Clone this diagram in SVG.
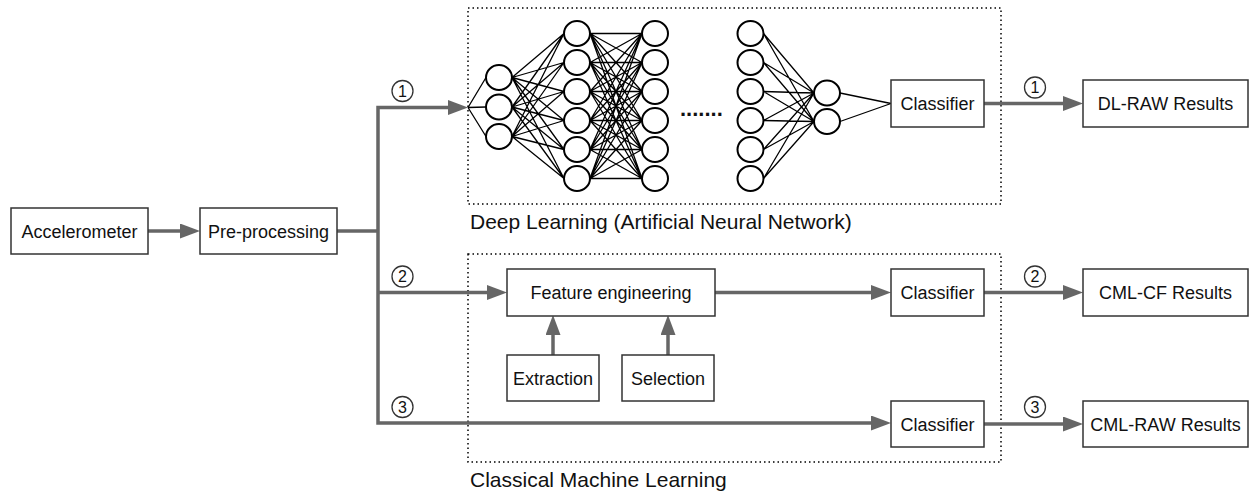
<svg xmlns="http://www.w3.org/2000/svg" width="1251" height="496" viewBox="0 0 1251 496">
<style>
.box{fill:#fff;stroke:#333;stroke-width:1.5}
.grp{fill:none;stroke:#000;stroke-width:1.5;stroke-dasharray:1.5 3}
.t{font-family:"Liberation Sans",Arial,sans-serif;font-size:18px;fill:#111;text-anchor:middle}
.gl{font-family:"Liberation Sans",Arial,sans-serif;font-size:21px;fill:#111}
.num{font-family:"Liberation Sans",Arial,sans-serif;font-size:16px;fill:#111;text-anchor:middle}
.nc{fill:none;stroke:#333;stroke-width:1.3}
.arr{fill:none;stroke:#666;stroke-width:3.5;marker-end:url(#ah)}
.nn{fill:none;stroke:#000;stroke-width:1.3}
.neuron{fill:#fff;stroke:#000;stroke-width:2}
</style>
<defs>
<marker id="ah" markerUnits="userSpaceOnUse" markerWidth="20" markerHeight="15" refX="10" refY="7.5" orient="auto-start-reverse"><path d="M0 0L20 7.5L0 15z" fill="#666"/></marker>
</defs>

<g id="groups">
<rect class="grp" x="468" y="8" width="533" height="196"/>
<text class="gl" x="470" y="229">Deep Learning (Artificial Neural Network)</text>
<rect class="grp" x="468" y="254" width="533" height="208"/>
<text class="gl" x="470" y="487">Classical Machine Learning</text>
</g>

<g id="connectors">
<path class="arr" d="M148 231H190"/>
<path d="M337 231H378" fill="none" stroke="#666" stroke-width="3.5"/>
<path class="arr" d="M458 107.5H378V423H881" style="marker-start:url(#ah)"/>
<path class="arr" d="M378 292.5H497"/>
<path class="arr" d="M715 292.5H881"/>
<path class="arr" d="M553 355V325"/>
<path class="arr" d="M668 355V325"/>
<path class="arr" d="M984 103.5H1073"/>
<path class="arr" d="M984 292.5H1073"/>
<path class="arr" d="M984 424H1073"/>
<path class="nn" d="M468 107.5L486 77.5M468 107.5L486 107M468 107.5L486 136.5"/>
<path class="nn" d="M512 77.5L564 33.5M512 77.5L564 62.5M512 77.5L564 91.5M512 77.5L564 120.5M512 77.5L564 149.5M512 77.5L564 178.5M512 107L564 33.5M512 107L564 62.5M512 107L564 91.5M512 107L564 120.5M512 107L564 149.5M512 107L564 178.5M512 136.5L564 33.5M512 136.5L564 62.5M512 136.5L564 91.5M512 136.5L564 120.5M512 136.5L564 149.5M512 136.5L564 178.5"/>
<path class="nn" d="M590 33.5L642 33.5M590 33.5L642 62.5M590 33.5L642 91.5M590 33.5L642 120.5M590 33.5L642 149.5M590 33.5L642 178.5M590 62.5L642 33.5M590 62.5L642 62.5M590 62.5L642 91.5M590 62.5L642 120.5M590 62.5L642 149.5M590 62.5L642 178.5M590 91.5L642 33.5M590 91.5L642 62.5M590 91.5L642 91.5M590 91.5L642 120.5M590 91.5L642 149.5M590 91.5L642 178.5M590 120.5L642 33.5M590 120.5L642 62.5M590 120.5L642 91.5M590 120.5L642 120.5M590 120.5L642 149.5M590 120.5L642 178.5M590 149.5L642 33.5M590 149.5L642 62.5M590 149.5L642 91.5M590 149.5L642 120.5M590 149.5L642 149.5M590 149.5L642 178.5M590 178.5L642 33.5M590 178.5L642 62.5M590 178.5L642 91.5M590 178.5L642 120.5M590 178.5L642 149.5M590 178.5L642 178.5"/>
<path class="nn" d="M763.5 33.5L814 93M763.5 33.5L814 121.5M763.5 62.5L814 93M763.5 62.5L814 121.5M763.5 91.5L814 93M763.5 91.5L814 121.5M763.5 120.5L814 93M763.5 120.5L814 121.5M763.5 149.5L814 93M763.5 149.5L814 121.5M763.5 178.5L814 93M763.5 178.5L814 121.5"/>
<path class="nn" d="M840 93L891 103.5M840 121.5L891 103.5"/>
</g>

<g id="labels">
<circle class="nc" cx="402.5" cy="91" r="10.5"/><text class="num" x="402.5" y="96.5">1</text>
<circle class="nc" cx="402.5" cy="276.5" r="10.5"/><text class="num" x="402.5" y="282">2</text>
<circle class="nc" cx="402.5" cy="407" r="10.5"/><text class="num" x="402.5" y="412.5">3</text>
<circle class="nc" cx="1035" cy="87.5" r="10.5"/><text class="num" x="1035" y="93">1</text>
<circle class="nc" cx="1035" cy="276.5" r="10.5"/><text class="num" x="1035" y="282">2</text>
<circle class="nc" cx="1035" cy="407" r="10.5"/><text class="num" x="1035" y="412.5">3</text>
</g>

<g id="neural-network">
<ellipse class="neuron" cx="499" cy="77.5" rx="13" ry="12.5"/>
<ellipse class="neuron" cx="499" cy="107" rx="13" ry="12.5"/>
<ellipse class="neuron" cx="499" cy="136.5" rx="13" ry="12.5"/>
<ellipse class="neuron" cx="577" cy="33.5" rx="13" ry="12.5"/>
<ellipse class="neuron" cx="577" cy="62.5" rx="13" ry="12.5"/>
<ellipse class="neuron" cx="577" cy="91.5" rx="13" ry="12.5"/>
<ellipse class="neuron" cx="577" cy="120.5" rx="13" ry="12.5"/>
<ellipse class="neuron" cx="577" cy="149.5" rx="13" ry="12.5"/>
<ellipse class="neuron" cx="577" cy="178.5" rx="13" ry="12.5"/>
<ellipse class="neuron" cx="655" cy="33.5" rx="13" ry="12.5"/>
<ellipse class="neuron" cx="655" cy="62.5" rx="13" ry="12.5"/>
<ellipse class="neuron" cx="655" cy="91.5" rx="13" ry="12.5"/>
<ellipse class="neuron" cx="655" cy="120.5" rx="13" ry="12.5"/>
<ellipse class="neuron" cx="655" cy="149.5" rx="13" ry="12.5"/>
<ellipse class="neuron" cx="655" cy="178.5" rx="13" ry="12.5"/>
<text x="680" y="116" font-family="Liberation Sans, Arial, sans-serif" font-size="22" font-weight="bold" fill="#111">.......</text>
<ellipse class="neuron" cx="750.5" cy="33.5" rx="13" ry="12.5"/>
<ellipse class="neuron" cx="750.5" cy="62.5" rx="13" ry="12.5"/>
<ellipse class="neuron" cx="750.5" cy="91.5" rx="13" ry="12.5"/>
<ellipse class="neuron" cx="750.5" cy="120.5" rx="13" ry="12.5"/>
<ellipse class="neuron" cx="750.5" cy="149.5" rx="13" ry="12.5"/>
<ellipse class="neuron" cx="750.5" cy="178.5" rx="13" ry="12.5"/>
<ellipse class="neuron" cx="827" cy="93" rx="13" ry="12.5"/>
<ellipse class="neuron" cx="827" cy="121.5" rx="13" ry="12.5"/>
</g>

<g id="accelerometer"><rect class="box" x="11" y="208" width="137" height="46"/><text class="t" x="79.5" y="237.5">Accelerometer</text></g>
<g id="preprocessing"><rect class="box" x="200" y="208" width="137" height="46"/><text class="t" x="268.5" y="237.5">Pre-processing</text></g>
<g id="classifier1"><rect class="box" x="891" y="80" width="93" height="47"/><text class="t" x="937.5" y="110">Classifier</text></g>
<g id="dl-raw"><rect class="box" x="1083" y="80" width="165" height="47"/><text class="t" x="1165.5" y="110">DL-RAW Results</text></g>
<g id="feature-engineering"><rect class="box" x="507" y="269" width="208" height="47"/><text class="t" x="611" y="299">Feature engineering</text></g>
<g id="classifier2"><rect class="box" x="891" y="269" width="93" height="47"/><text class="t" x="937.5" y="299">Classifier</text></g>
<g id="cml-cf"><rect class="box" x="1083" y="269" width="165" height="47"/><text class="t" x="1165.5" y="299">CML-CF Results</text></g>
<g id="extraction"><rect class="box" x="507" y="355" width="92" height="46"/><text class="t" x="553" y="384.5">Extraction</text></g>
<g id="selection"><rect class="box" x="622" y="355" width="92" height="46"/><text class="t" x="668" y="384.5">Selection</text></g>
<g id="classifier3"><rect class="box" x="891" y="401" width="93" height="46"/><text class="t" x="937.5" y="430.5">Classifier</text></g>
<g id="cml-raw"><rect class="box" x="1083" y="401" width="165" height="46"/><text class="t" x="1165.5" y="430.5">CML-RAW Results</text></g>
</svg>
